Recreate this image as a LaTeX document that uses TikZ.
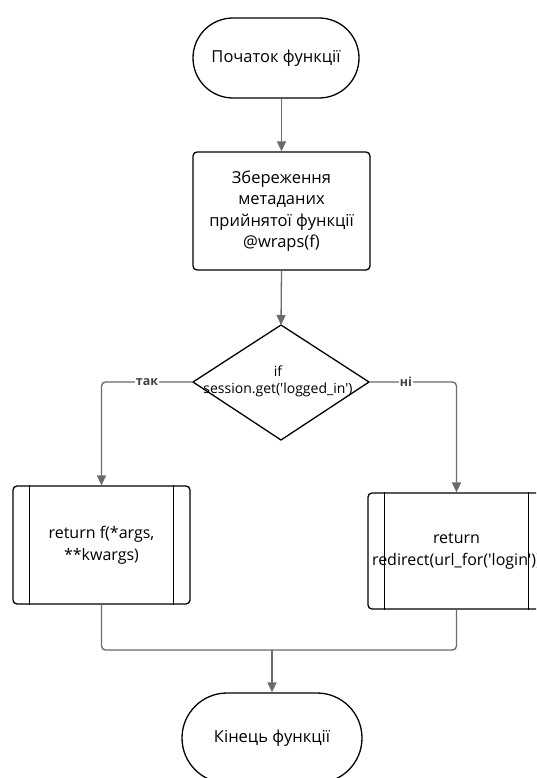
\documentclass[tikz,border=0pt]{standalone}
\usepackage{fontspec}
\setmainfont{Open Sans}[Ligatures=TeXOff]
\usetikzlibrary{arrows.meta}

\tikzset{
  terminal/.style={draw=black, line width=1.3pt, rounded corners=#1,
    align=center, font=\fontsize{16.5}{20}\selectfont, inner sep=0pt},
  procbox/.style={draw=black, line width=1.3pt, rounded corners=4pt,
    align=center, font=\fontsize{16.5}{21.5}\selectfont, inner sep=0pt},
  subbox/.style={draw=black, line width=1.3pt, rounded corners=4pt,
    align=center, font=\fontsize{16}{22}\selectfont, inner sep=0pt},
  conn/.style={draw=black!58, line width=1.3pt, rounded corners=4pt},
  arr/.style={conn, -{Triangle[length=10pt,width=9pt]}},
  branchlabel/.style={fill=white, font=\bfseries\fontsize{12.5}{14}\selectfont,
    text=black!75, inner sep=1pt},
}

\begin{document}
\begin{tikzpicture}[x=1pt, y=-1pt]
  \clip (0,0) rectangle (536,778);
  \fill[white] (0,0) rectangle (536,778);

  % start / end terminals
  \node[terminal=40pt, minimum width=166pt, minimum height=80pt] (start) at (276,58) {Початок функції};
  \node[terminal=45pt, minimum width=180pt, minimum height=90pt] (finish) at (272,738) {Кінець функції};

  % metadata preservation step
  \node[procbox, minimum width=177pt, minimum height=118pt] (wrap) at (281.5,211)
    {Збереження\\метаданих\\прийнятої функції\\@wraps(f)};

  % decision
  \node[align=center, font=\fontsize{14}{17}\selectfont, inner sep=0pt] (dec) at (278,381)
    {if\\session.get('logged\_in')};
  \coordinate (decT) at (281,325);
  \coordinate (decB) at (281,440);
  \coordinate (decL) at (193,382);
  \coordinate (decR) at (369,382);
  \draw[black, line width=1.3pt, line join=round] (decT) -- (decR) -- (decB) -- (decL) -- cycle;

  % subroutine calls
  \node[subbox, minimum width=177pt, minimum height=118pt] (callf) at (101.5,545)
    {return f(*args,\\**kwargs)};
  \draw[black, line width=1.3pt] ([xshift=17pt]callf.north west) -- ([xshift=17pt]callf.south west);
  \draw[black, line width=1.3pt] ([xshift=-17pt]callf.north east) -- ([xshift=-17pt]callf.south east);

  \node[subbox, minimum width=177pt, minimum height=116pt] (redir) at (456.5,551)
    {return\\redirect(url\_for('login'))};
  \draw[black, line width=1.3pt] ([xshift=17pt]redir.north west) -- ([xshift=17pt]redir.south west);
  \draw[black, line width=1.3pt] ([xshift=-17pt]redir.north east) -- ([xshift=-17pt]redir.south east);

  % connectors
  \draw[arr] (start.south -| wrap.north) -- (wrap.north);
  \draw[arr] (wrap.south) -- (decT);
  \draw[arr] (decL) -| (callf.north);
  \draw[arr] (decR) -| (redir.north);
  \node[branchlabel] at (147,382) {так};
  \node[branchlabel] at (406,382) {ні};

  \coordinate (merge) at (272,650);
  \draw[conn] (callf.south) |- (merge);
  \draw[conn] (redir.south) |- (merge);
  \draw[arr] (merge) -- (finish.north);
\end{tikzpicture}
\end{document}
